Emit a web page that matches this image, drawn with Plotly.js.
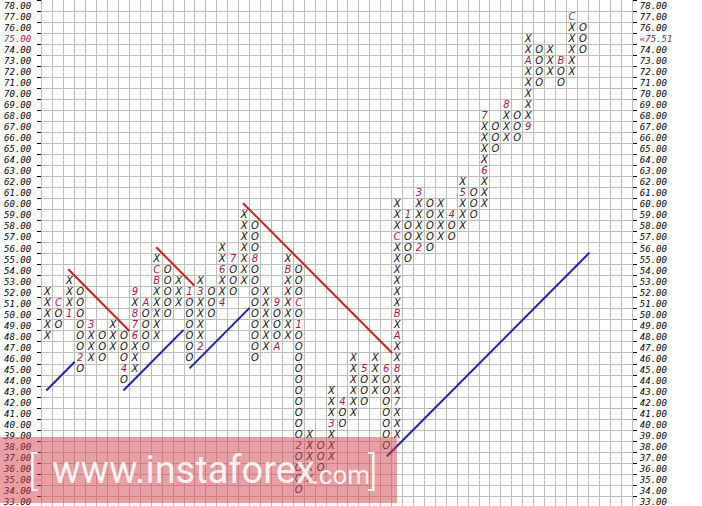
<!DOCTYPE html>
<html><head><meta charset="utf-8">
<script src="https://cdn.plot.ly/plotly-3.0.1.min.js"></script>
<style>html,body{margin:0;padding:0;background:#fff;overflow:hidden}#chart{width:702px;height:506px}</style>
</head><body><div id="chart"></div>
<script>
// ---- Point & Figure columns (box size 1.00) ----
const colType = ['X','O','X','O','X','O','X','O','X','O','X','O','X','O','X','O','X','O','X','O',
                 'X','O','X','O','X','O','X','O','X','O','X','O','X','O','X','O','X','O','X','O',
                 'X','O','X','O','X','O','X','O','X','O'];
const colLow  = [48,49,50,45,46,46,47,44,45,47,48,50,51,46,47,50,51,52,53,46,
                 47,47,48,34,35,36,37,40,41,42,43,38,39,55,56,56,57,57,58,59,
                 60,65,66,66,67,71,72,71,72,74];
const colHigh = [52,51,53,52,49,48,49,48,52,51,55,54,53,52,53,52,56,55,59,58,
                 52,51,55,54,39,38,43,42,46,45,46,45,60,59,61,60,60,59,62,61,
                 68,67,69,68,75,74,74,73,77,76];
// month markers (replace the X/O in their box)
const monthCol  = [1,2,3,4,7,8,8,8,8,9,10,10,13,14,14,16,16,17,19,21,21,22,23,23,23,26,27,29,31,32,32,32,32,32,33,34,34,37,38,40,40,42,44,44,47,48];
const monthVal  = [51,50,46,49,45,48,49,50,52,51,53,54,52,47,52,51,54,55,55,51,47,54,51,49,38,40,42,45,45,42,45,48,50,57,59,56,61,59,61,63,68,69,67,73,73,77];
const monthText = ['C','1','2','3','4','6','7','8','9','A','B','C','1','2','3','4','6','7','8','9','A','B','C','1','2','3','4','5','6','7','8','A','B','C','1','2','3','4','5','6','7','8','9','A','B','C'];
// price axis
const priceTicks = [33,34,35,36,37,38,39,40,41,42,43,44,45,46,47,48,49,50,51,52,53,54,55,56,57,58,59,60,61,62,63,64,65,66,67,68,69,70,71,72,73,74,75,76,77,78];
const lastPrice = 75.51;
const lastRow = 75;
// trend lines [colStart, priceStart, colEnd, priceEnd]
const redLineA = [1.9, 54.1, 7.5, 48.5];
const redLineB = [9.95, 56.1, 13.45, 52.6];
const redLineC = [17.9, 60.1, 31.55, 46.5];
const blueLineA = [-0.1, 43.1, 2.5, 45.7];
const blueLineB = [6.95, 43.1, 12.45, 48.6];
const blueLineC = [13.0, 45.1, 18.5, 50.6];
const blueLineD = [31.05, 37.1, 49.6, 55.6];

const crimson = '#a3174f';
const fmt = v => v.toFixed(2);

// build boxes
const mk = {};
monthCol.forEach((c,i)=>{ mk[c+'_'+monthVal[i]] = monthText[i]; });
const xX=[],yX=[],xO=[],yO=[],xM=[],yM=[],tM=[];
colType.forEach((t,c)=>{
  for(let v=colLow[c]; v<=colHigh[c]; v++){
    const key=c+'_'+v;
    if(mk[key]!==undefined){ xM.push(c); yM.push(v); tM.push(mk[key]); }
    else if(t==='X'){ xX.push(c); yX.push(v); }
    else { xO.push(c); yO.push(v); }
  }
});
const boxFont = {family:'DejaVu Sans', size:10, style:'italic'};
const lineTrace = (L,color)=>({x:[L[0],L[2]], y:[L[1],L[3]], mode:'lines', line:{color:color,width:2}, hoverinfo:'skip', showlegend:false});
const traces = [
  lineTrace(redLineA,'#cc1f1f'), lineTrace(redLineB,'#cc1f1f'), lineTrace(redLineC,'#cc1f1f'),
  lineTrace(blueLineA,'#1f1fb0'), lineTrace(blueLineB,'#1f1fb0'), lineTrace(blueLineC,'#1f1fb0'), lineTrace(blueLineD,'#1f1fb0'),
  {x:xX,y:yX,mode:'text',text:xX.map(()=>'X'),textfont:Object.assign({color:'#111'},boxFont),showlegend:false,hoverinfo:'skip'},
  {x:xO,y:yO,mode:'text',text:xO.map(()=>'O'),textfont:Object.assign({color:'#111'},boxFont),showlegend:false,hoverinfo:'skip'},
  {x:xM,y:yM,mode:'text',text:tM,textfont:Object.assign({color:crimson},boxFont),showlegend:false,hoverinfo:'skip'},
  {x:[0],y:[lastPrice],yaxis:'y2',mode:'markers',marker:{opacity:0},showlegend:false,hoverinfo:'skip'}
];

const leftText = priceTicks.map(v => v===lastRow ? '<span style="color:'+crimson+'">'+fmt(v)+'</span>' : fmt(v));
const rightText = priceTicks.map(v => v===lastRow ? '<span style="color:'+crimson+'">«'+fmt(lastPrice)+'</span>' : fmt(v));
const halfRows = priceTicks.map(v=>v-0.5).concat([78.5]);
const halfCols = []; for(let c=-0.5;c<=53.5;c++) halfCols.push(c);
const yr = [32.61, 78.545];
const tickFont = {family:'DejaVu Sans Mono', size:9, style:'italic', color:'#000'};
const gridC = '#bdbdbd';

const W=702,H=506,L=42,R=70;
const px = x => (x-L)/(W-L-R);
const py = y => (H-y)/H;

const layout = {
  width:W, height:H, margin:{l:L,r:R,t:0,b:0,pad:0},
  paper_bgcolor:'#fff', plot_bgcolor:'#fff', showlegend:false,
  xaxis:{range:[-0.5,53.5], tickmode:'array', tickvals:halfCols, showticklabels:false, ticks:'',
         showgrid:true, gridcolor:gridC, gridwidth:1, zeroline:false, showline:false},
  yaxis:{range:yr, tickmode:'array', tickvals:priceTicks, ticktext:leftText, tickfont:tickFont,
         ticks:'', showgrid:false, zeroline:false, showline:true, linecolor:gridC,
         ticklabelstandoff:8, ticklabeloverflow:'allow', automargin:false,
         minor:{tickmode:'array', tickvals:halfRows, ticks:'outside', ticklen:4, tickcolor:'#000', tickwidth:1,
                showgrid:true, gridcolor:gridC, gridwidth:1}},
  yaxis2:{range:yr, overlaying:'y', side:'right', tickmode:'array', tickvals:priceTicks, ticktext:rightText, tickfont:tickFont,
          ticks:'', showgrid:false, zeroline:false, showline:true, linecolor:gridC, ticklabelstandoff:5, ticklabeloverflow:'allow',
          automargin:false,
          minor:{tickmode:'array', tickvals:halfRows, ticks:'outside', ticklen:4, tickcolor:'#000', tickwidth:1, showgrid:false}},
  shapes:[{type:'rect', xref:'paper', yref:'paper', x0:px(0), x1:px(397), y0:py(503), y1:py(437),
           fillcolor:'rgba(209,65,75,0.5)', line:{width:0}, layer:'above'}],
  annotations:[
    {xref:'paper',yref:'paper',x:px(26),y:py(471),xanchor:'left',yanchor:'middle',showarrow:false,text:'[',
     font:{family:'Roboto',size:40,weight:300,color:'rgba(255,255,255,0.9)'}},
    {xref:'paper',yref:'paper',x:px(50),y:py(470),xanchor:'left',yanchor:'middle',showarrow:false,text:'www.instaforex',
     font:{family:'Roboto',size:38,weight:400,color:'rgba(255,255,255,0.9)'}},
    {xref:'paper',yref:'paper',x:px(310),y:py(475),xanchor:'left',yanchor:'middle',showarrow:false,text:'.com',
     font:{family:'Roboto',size:26,weight:400,color:'rgba(255,255,255,0.9)'}},
    {xref:'paper',yref:'paper',x:px(366),y:py(471),xanchor:'left',yanchor:'middle',showarrow:false,text:']',
     font:{family:'Roboto',size:40,weight:300,color:'rgba(255,255,255,0.9)'}}
  ]
};
Plotly.newPlot('chart', traces, layout, {displayModeBar:false, staticPlot:true});
</script></body></html>
